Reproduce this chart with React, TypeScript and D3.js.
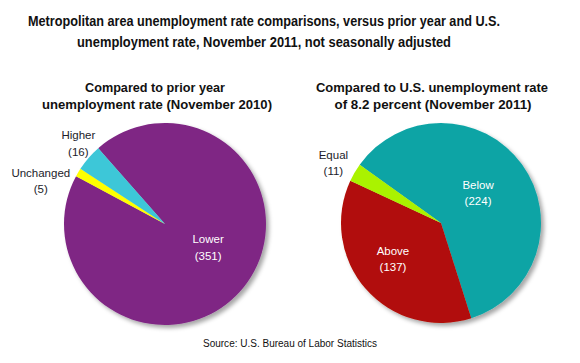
import * as d3 from "d3";

const W = 580;
const H = 363;
const FONT = "'Liberation Sans', Arial, sans-serif";

// left pie: compared to prior year
const priorLabels = ["Lower", "Unchanged", "Higher"];
const priorValues = [351, 5, 16];
const priorColors = ["#7F2784", "#FFFF00", "#3EC7D8"];

// right pie: compared to U.S. rate
const usLabels = ["Below", "Above", "Equal"];
const usValues = [224, 137, 11];
const usColors = ["#0AA4A5", "#B10D07", "#AAF200"];

const titleLines = [
  "Metropolitan area unemployment rate comparisons, versus prior year and U.S.",
  "unemployment rate, November 2011, not seasonally adjusted",
];
const priorTitle = ["Compared to prior year", "unemployment rate (November 2010)"];
const usTitle = ["Compared to U.S. unemployment rate", "of 8.2 percent (November  2011)"];
const source = "Source: U.S. Bureau of Labor Statistics";

type PieProps = {
  cx: number;
  cy: number;
  r: number;
  labels: string[];
  values: number[];
  colors: string[];
  startDeg: number;
  insideMin: number; // slices with share above this get labels inside
  nudge?: Record<string, [number, number]>;
};

const Pie = ({ cx, cy, r, labels, values, colors, startDeg, insideMin, nudge = {} }: PieProps) => {
  const total = d3.sum(values);
  const start = (startDeg * Math.PI) / 180;
  const slices = d3
    .pie<number>()
    .sort(null)
    .startAngle(start)
    .endAngle(start + 2 * Math.PI)(values);
  const arc = d3.arc<d3.PieArcDatum<number>>().innerRadius(0).outerRadius(r);

  return (
    <g transform={`translate(${cx},${cy})`}>
      <g filter="url(#shadow)">
        {slices.map((s, i) => (
          <path key={labels[i]} d={arc(s) ?? ""} fill={colors[i]} />
        ))}
      </g>
      {slices.map((s, i) => {
        const inside = s.value / total > insideMin;
        const mid = (s.startAngle + s.endAngle) / 2;
        const rr = inside ? r * 0.52 : r * 1.2;
        const [dx, dy] = nudge[labels[i]] ?? [0, 0];
        const x = Math.sin(mid) * rr + dx;
        const y = -Math.cos(mid) * rr + dy;
        return (
          <text
            key={labels[i]}
            x={x}
            y={y}
            textAnchor="middle"
            fontFamily={FONT}
            fontSize={11.5}
            fill={inside ? "#ffffff" : "#1c1c2a"}
          >
            <tspan x={x} dy="-0.3em">
              {labels[i]}
            </tspan>
            <tspan x={x} dy="1.42em">
              ({s.value})
            </tspan>
          </text>
        );
      })}
    </g>
  );
};

const App = () => {
  return (
    <svg
      width={W}
      height={H}
      style={{ position: "absolute", left: 0, top: 0, background: "#fff" }}
    >
      <defs>
        <filter id="shadow" x="-20%" y="-20%" width="150%" height="150%">
          <feDropShadow dx="3" dy="3" stdDeviation="2" floodColor="#000" floodOpacity="0.35" />
        </filter>
      </defs>
      <rect width={W} height={H} fill="#fff" />

      {/* main title */}
      <text
        x={264}
        y={26}
        textAnchor="middle"
        fontFamily={FONT}
        fontWeight="bold"
        fontSize={14.5}
        textLength={472}
        lengthAdjust="spacingAndGlyphs"
        fill="#111"
      >
        {titleLines[0]}
      </text>
      <text
        x={264}
        y={47}
        textAnchor="middle"
        fontFamily={FONT}
        fontWeight="bold"
        fontSize={14.5}
        textLength={374}
        lengthAdjust="spacingAndGlyphs"
        fill="#111"
      >
        {titleLines[1]}
      </text>

      {/* pie titles */}
      {[
        { lines: priorTitle, xs: [155, 157], lens: [140, 230] },
        { lines: usTitle, xs: [432, 433], lens: [232, 197] },
      ].map((t) =>
        t.lines.map((line, j) => (
          <text
            key={line}
            x={t.xs[j]}
            y={92 + j * 17}
            textAnchor="middle"
            fontFamily={FONT}
            fontWeight="bold"
            fontSize={12.5}
            textLength={t.lens[j]}
            lengthAdjust="spacingAndGlyphs"
            fill="#111"
          >
            {line}
          </text>
        ))
      )}

      <Pie
        cx={165}
        cy={224}
        r={101}
        labels={priorLabels}
        values={priorValues}
        colors={priorColors}
        startDeg={-41.4}
        insideMin={0.2}
        nudge={{ Lower: [2, -10], Higher: [5, -2], Unchanged: [-20, 18] }}
      />
      <Pie
        cx={441}
        cy={223}
        r={100}
        labels={usLabels}
        values={usValues}
        colors={usColors}
        startDeg={-54.4}
        insideMin={0.2}
        nudge={{ Below: [-5, 0], Above: [-9, 1], Equal: [-4, 0] }}
      />

      <text
        x={290}
        y={347}
        textAnchor="middle"
        fontFamily={FONT}
        fontSize={10}
        textLength={174}
        lengthAdjust="spacingAndGlyphs"
        fill="#111"
      >
        {source}
      </text>
    </svg>
  );
};

export default App;
